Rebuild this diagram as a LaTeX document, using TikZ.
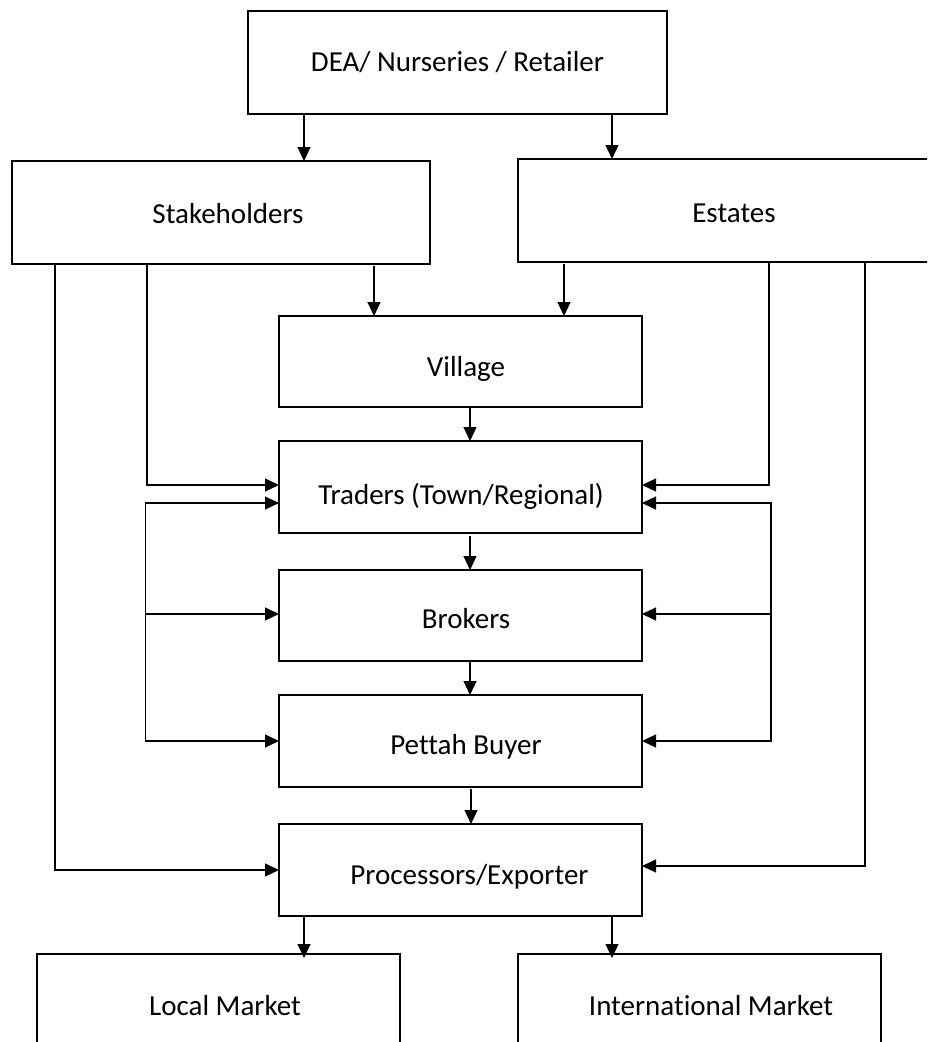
\documentclass[tikz,border=0pt]{standalone}
\usepackage{fontspec}
\setmainfont{Carlito}[Ligatures=NoCommon]
\usetikzlibrary{arrows.meta}
\begin{document}
\begin{tikzpicture}[x=1pt, y=-1pt,
  box/.style={draw, line width=2pt, rectangle, inner sep=0pt, outer sep=0pt},
  lbl/.style={anchor=base, inner sep=0pt, font=\fontsize{29pt}{34pt}\selectfont},
  flow/.style={line width=1.1pt, -{Triangle[length=14pt,width=13pt]}},
  wire/.style={line width=1.1pt, line cap=rect}]
\path[use as bounding box] (0,0) rectangle (927,1042);
\clip (0,0) rectangle (927,1042);

% boxes
\node[box, minimum width=419pt, minimum height=103pt] (dea)     at (457.5,62.5) {};
\node[box, minimum width=418pt, minimum height=103pt] (stake)   at (221,212.5) {};
\node[box, minimum width=419pt, minimum height=103pt] (estates) at (727.5,210.5) {};
\node[box, minimum width=363pt, minimum height=91pt]  (village) at (460.5,361.5) {};
\node[box, minimum width=363pt, minimum height=92pt]  (traders) at (460.5,487) {};
\node[box, minimum width=363pt, minimum height=91pt]  (brokers) at (460.5,615.5) {};
\node[box, minimum width=363pt, minimum height=92pt]  (pettah)  at (460.5,741) {};
\node[box, minimum width=363pt, minimum height=92pt]  (proc)    at (460.5,870) {};
\node[box, minimum width=363pt, minimum height=103pt] (local)   at (218.5,1005.5) {};
\node[box, minimum width=363pt, minimum height=103pt] (intl)    at (699.5,1005.5) {};

% labels
\node[lbl] (t-dea)     at (457.5,71)  {DEA/ Nurseries / Retailer};
\node[lbl] (t-stake)   at (228,223)   {Stakeholders};
\node[lbl] (t-estates) at (734,222)   {Estates};
\node[lbl] (t-village) at (466,376)   {Village};
\node[lbl] (t-traders) at (461,504)   {Traders (Town/Regional)};
\node[lbl] (t-brokers) at (466,628)   {Brokers};
\node[lbl] (t-pettah)  at (466,754)   {Pettah Buyer};
\node[lbl] (t-proc)    at (469.5,884) {Processors/Exporter};
\node[lbl] (t-local)   at (225,1015)  {Local Market};
\node[lbl] (t-intl)    at (711,1015)  {International Market};

% turning points of the side routes
\coordinate (sL)  at (147,485);
\coordinate (sR)  at (769,485);
\coordinate (lt)  at (145.5,503);
\coordinate (lm)  at (145.5,614);
\coordinate (lb)  at (145.5,741);
\coordinate (rt)  at (771,503);
\coordinate (rm)  at (771,614);
\coordinate (rb)  at (771,741);
\coordinate (fL)  at (55,870);
\coordinate (fR)  at (865,866);

% main vertical flow
\draw[flow] (dea.south -| 304,0) -- (stake.north -| 304,0);
\draw[flow] (dea.south -| 612,0) -- (estates.north -| 612,0);
\draw[flow] ([yshift=-2pt]stake.south -| 374,0) -- (village.north -| 374,0);
\draw[flow] ([yshift=-2pt]estates.south -| 564,0) -- (village.north -| 564,0);
\draw[flow] (village.south -| 470,0) -- (traders.north -| 470,0);
\draw[flow] ([yshift=-3pt]traders.south -| 470,0) -- (brokers.north -| 470,0);
\draw[flow] (brokers.south -| 470,0) -- (pettah.north -| 470,0);
\draw[flow] ([yshift=-2pt]pettah.south -| 471,0) -- (proc.north -| 471,0);
\draw[flow] (proc.south -| 304,0) -- ([yshift=-4pt]local.north -| 304,0);
\draw[flow] (proc.south -| 612,0) -- ([yshift=-4pt]intl.north -| 612,0);

% side routes into Traders
\draw[flow] (stake.south -| sL) |- (traders.west |- sL);
\draw[flow] (estates.south -| sR) |- (traders.east |- sR);

% left and right loops
\draw[wire] (lt) -- (lb);
\draw[flow] (lt) -- (traders.west |- lt);
\draw[flow] (lm) -- (brokers.west |- lm);
\draw[flow] (lb) -- (pettah.west |- lb);
\draw[wire] (rt) -- (rb);
\draw[flow] (rt) -- (traders.east |- rt);
\draw[flow] (rm) -- (brokers.east |- rm);
\draw[flow] (rb) -- (pettah.east |- rb);

% outer routes into Processors
\draw[flow] (stake.south -| fL) |- (proc.west |- fL);
\draw[flow] (estates.south -| fR) |- (proc.east |- fR);
\end{tikzpicture}
\end{document}
